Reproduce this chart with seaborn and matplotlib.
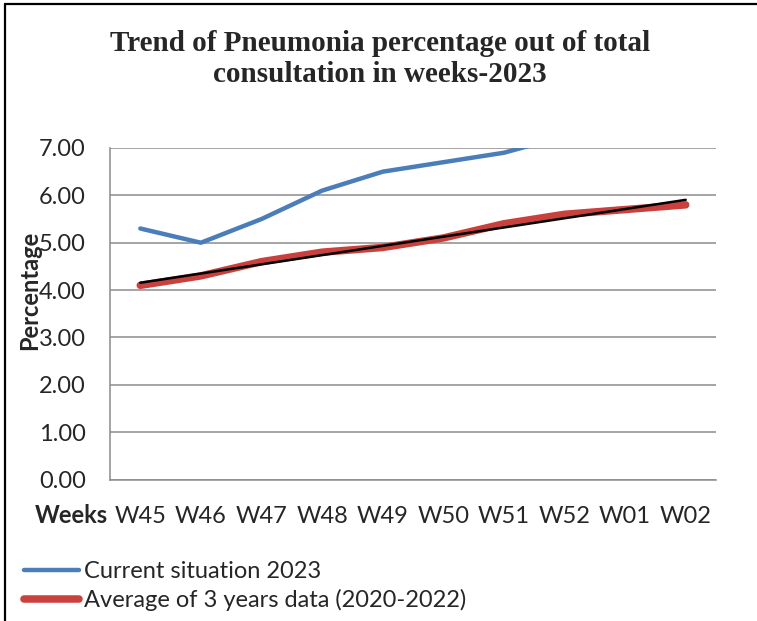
import numpy as np
import pandas as pd
import seaborn as sns
import matplotlib
matplotlib.use("Agg")
import matplotlib.pyplot as plt
from matplotlib.lines import Line2D

weeks = ["W45", "W46", "W47", "W48", "W49", "W50", "W51", "W52", "W01", "W02"]
current_2023 = [5.3, 5.0, 5.5, 6.1, 6.5, 6.7, 6.9, 7.25, np.nan, np.nan]
avg_3yr = [4.1, 4.3, 4.6, 4.8, 4.9, 5.1, 5.4, 5.6, 5.7, 5.8]
y_ticks = [0, 1, 2, 3, 4, 5, 6, 7]

W, H = 757, 621
sns.set_theme(style="white")
plt.rcParams["font.family"] = ["Lato", "DejaVu Sans"]

pos = np.arange(len(weeks))
df = pd.DataFrame({"pos": pos, "week": weeks, "current": current_2023, "avg": avg_3yr})

# linear trend of the 3-year average (Excel-style trendline)
slope, intercept = np.polyfit(df["pos"], df["avg"], 1)
df["trend"] = intercept + slope * df["pos"]

fig = plt.figure(figsize=(W / 100, H / 100), dpi=100)
ax = fig.add_axes([110 / W, 1 - 479.5 / H, (716 - 110) / W, (479.5 - 148) / H])

grid_c = "#8c8c8c"
sns.lineplot(data=df.dropna(subset=["current"]), x="pos", y="current", ax=ax,
             color="#4A7EBB", lw=3.2, label="Current situation 2023")
sns.lineplot(data=df, x="pos", y="avg", ax=ax, color="#C9403D", lw=5.4,
             solid_capstyle="round", label="Average of 3 years data (2020-2022)")
sns.lineplot(data=df, x="pos", y="trend", ax=ax, color="black", lw=1.8,
             label="_trend")

ax.set_xlim(-0.5, len(weeks) - 0.5)
ax.set_ylim(0, 7)
ax.set_yticks(y_ticks)
ax.set_yticklabels([f"{v:.2f}" for v in y_ticks], fontsize=17)
ax.set_xticks(pos)
ax.set_xticklabels(weeks, fontsize=17)
ax.set_xticks(np.arange(-0.5, len(weeks)), minor=True)
ax.tick_params(axis="x", which="major", length=0, pad=19)
ax.tick_params(axis="x", which="minor", length=5.5, width=1.1, color=grid_c)
ax.tick_params(axis="y", length=5.5, width=1.1, color=grid_c, pad=12)
ax.grid(axis="y", color=grid_c, lw=1.1)
ax.set_axisbelow(True)
for s in ["top", "right"]:
    ax.spines[s].set_visible(False)
for s in ["left", "bottom"]:
    ax.spines[s].set_color(grid_c)
    ax.spines[s].set_linewidth(1.1)
ax.set_xlabel("")
ax.set_ylabel("")
ax.get_legend().remove()

fig.text(380 / W, 1 - 59 / H, "Trend of Pneumonia percentage out of total\nconsultation in weeks-2023",
         ha="center", va="center", fontsize=21, fontweight="bold",
         family="Liberation Serif", linespacing=1.22)
fig.text(30 / W, 1 - 290 / H, "Percentage", rotation=90, ha="center", va="center",
         fontsize=17, fontweight="bold")
fig.text(35 / W, 1 - 523 / H, "Weeks", ha="left", va="baseline",
         fontsize=17, fontweight="bold")

handles, labels = ax.get_legend_handles_labels()
keep = [i for i, l in enumerate(labels) if not l.startswith("_")]
fig.legend([handles[i] for i in keep], [labels[i] for i in keep],
           loc="upper left", bbox_to_anchor=(24 / W, 1 - 561 / H), frameon=False,
           fontsize=17, handlelength=2.35, handletextpad=0.2, labelspacing=0.3,
           borderpad=0, borderaxespad=0)

# frame lines along top and left edges
fig.add_artist(Line2D([5 / W, 1], [1 - 4 / H, 1 - 4 / H], color="black", lw=1.6))
fig.add_artist(Line2D([5 / W, 5 / W], [0, 1 - 4 / H], color="black", lw=1.6))

fig.savefig("out.png", dpi=100)
